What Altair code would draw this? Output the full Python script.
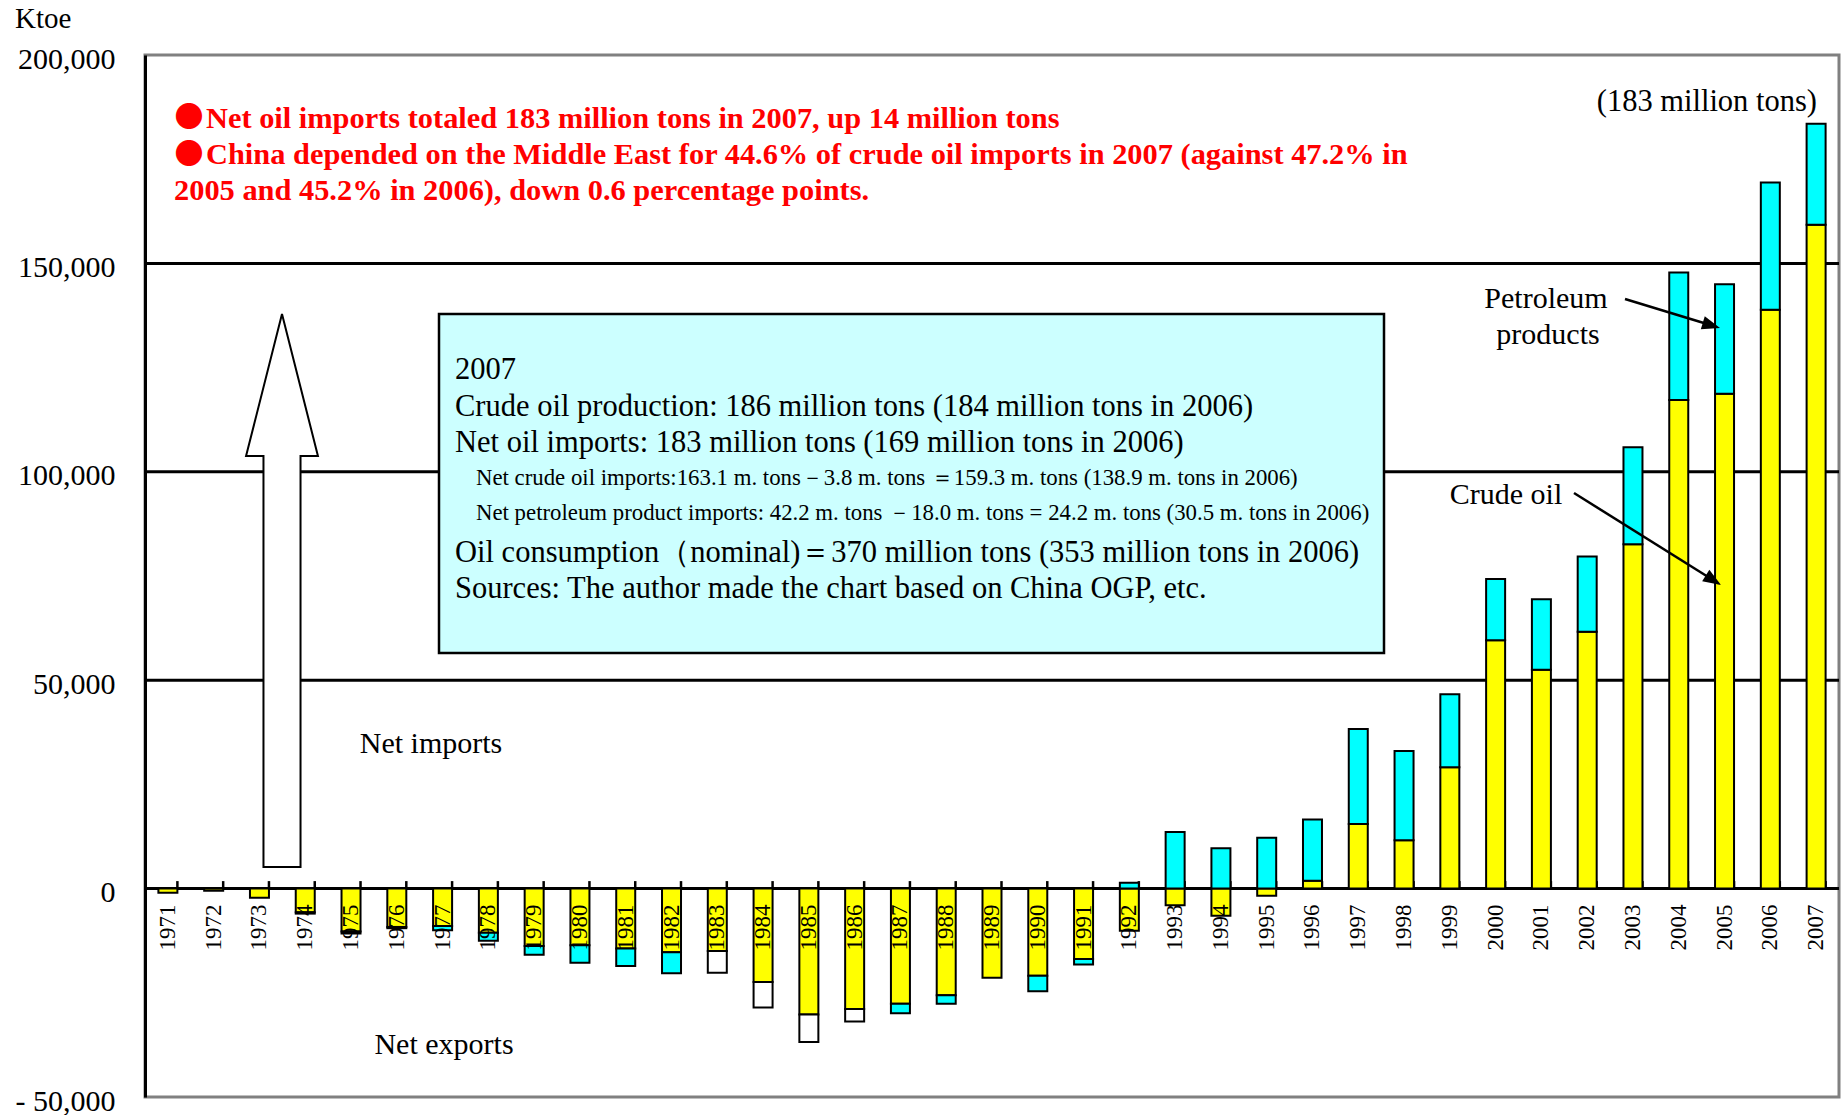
import altair as alt
import pandas as pd

# ---------------- data (Ktoe) ----------------
years = list(range(1971, 2008))
crude = [-1000, -500, -2200, -5700, -10300, -9200, -9000, -10600, -13800, -13600,
         -14400, -15300, -15000, -22400, -30200, -28900, -27600, -25600, -21400, -20900,
         -16900, -10100, -4000, -6500, -1700, 1900, 15500, 11600, 29100, 59600,
         52500, 61600, 82600, 117200, 118700, 138900, 159300]
products = [0, 0, 0, -300, -500, -300, -1000, -1900, -2100, -4200,
            -4200, -5000, 0, 0, 0, 0, -2300, -2000, 0, -3700,
            -1300, 1400, 13600, 9700, 12200, 14700, 22800, 21400, 17500, 14700,
            16900, 18100, 23300, 30600, 26300, 30500, 24200]
other = [0] * 12 + [-5200, -6100, -6600, -3000] + [0] * 21

series_names = ["Crude oil", "Petroleum products", "Other"]
series_colors = ["#FFFF00", "#00FFFF", "#FFFFFF"]
y_ticks = [-50000, 0, 50000, 100000, 150000, 200000]
grid_values = [50000, 100000, 150000]

title_lines = [
    "Net oil imports totaled 183 million tons in 2007, up 14 million tons",
    "China depended on the Middle East for 44.6% of crude oil imports in 2007 (against 47.2% in",
    "2005 and 45.2% in 2006), down 0.6 percentage points.",
]
box_lines = [
    "2007",
    "Crude oil production: 186 million tons (184 million tons in 2006)",
    "Net oil imports: 183 million tons (169 million tons in 2006)",
    "Net crude oil imports:163.1 m. tons\uff0d3.8 m. tons \uff1d159.3 m. tons (138.9 m. tons in 2006)",
    "Net petroleum product imports: 42.2 m. tons \uff0d18.0 m. tons = 24.2 m. tons (30.5 m. tons in 2006)",
    "Oil consumption\uff08nominal)\uff1d370 million tons (353 million tons in 2006)",
    "Sources: The author made the chart based on China OGP, etc.",
]

rows = []
for i, y in enumerate(years):
    for k, vals in enumerate([crude, products, other]):
        if vals[i] != 0:
            rows.append({"year": y, "value": vals[i], "series": series_names[k], "order": k})
df = pd.DataFrame(rows)
df_years = pd.DataFrame({"year": years})
df_grid = pd.DataFrame({"v": grid_values})
one = pd.DataFrame({"a": [0]})

SERIF = "Liberation Serif"
W, H = 1694, 1042

xscale = alt.Scale(domain=years, paddingInner=0.585, paddingOuter=0.2925)
yscale = alt.Scale(domain=[-50000, 200000], nice=False, zero=False)
yaxis = alt.Axis(values=y_ticks, title=None, grid=False, ticks=False,
                 labelExpr="datum.value < 0 ? '- ' + format(-datum.value, ',') : format(datum.value, ',')",
                 labelFont=SERIF, labelFontSize=30, labelColor="black", labelPadding=30,
                 labelBaseline="middle", labelOffset=4,
                 domainColor="black", domainWidth=3)

grid = alt.Chart(df_grid).mark_rule(color="black", strokeWidth=3).encode(
    y=alt.Y("v:Q", scale=yscale, axis=yaxis)
)
zero_line = alt.Chart(one).mark_rule(color="black", strokeWidth=3).encode(
    y=alt.datum(0)
)
ticks = alt.Chart(df_years).mark_rule(color="black", strokeWidth=2.5).encode(
    x=alt.X("year:O", scale=xscale, axis=None, bandPosition=1),
    y=alt.datum(0),
    y2=alt.datum(1800),
)

bars = alt.Chart(df).mark_bar(stroke="black", strokeWidth=2, opacity=1).encode(
    x=alt.X("year:O", scale=xscale, axis=None),
    y=alt.Y("value:Q", scale=yscale, axis=yaxis, stack="zero"),
    color=alt.Color("series:N", scale=alt.Scale(domain=series_names, range=series_colors), legend=None),
    order=alt.Order("order:Q"),
)

year_labels = alt.Chart(df_years).mark_text(
    font=SERIF, fontSize=23, angle=270, align="right", baseline="middle", dx=-16, color="black"
).encode(
    x=alt.X("year:O", scale=xscale, axis=None),
    y=alt.datum(0),
    text=alt.Text("year:O"),
)


def note(text, x, y, size=30, align="left", bold=False, color="black", font=SERIF):
    return alt.Chart(one).mark_text(
        text=text, font=font, fontSize=size, align=align, baseline="middle",
        fontWeight="bold" if bold else "normal", color=color
    ).encode(x=alt.value(x), y=alt.value(y))


# info box
box = alt.Chart(one).mark_rect(fill="#CCFFFF", stroke="black", strokeWidth=2.5).encode(
    x=alt.value(294), x2=alt.value(1239), y=alt.value(259), y2=alt.value(598)
)
box_y = [315, 352, 388, 423, 458, 498, 534]
box_x = [310, 310, 310, 331, 331, 310, 310]
box_size = [30.5, 30.5, 30.5, 22.8, 22.8, 30.5, 30.5]
box_texts = [note(t, box_x[i], box_y[i], size=box_size[i]) for i, t in enumerate(box_lines)]

# hollow up arrow
arrow_path = "M0,-1L0.13,-0.486L0.067,-0.486L0.067,1L-0.067,1L-0.067,-0.486L-0.13,-0.486Z"
big_arrow = alt.Chart(one).mark_point(
    shape=arrow_path, size=553 * 553, filled=True, color="white", stroke="black",
    strokeWidth=2, opacity=1
).encode(x=alt.value(137), y=alt.value(535.5))

# pointer arrows
head = "M1,0L-1,-0.75L-1,0.75Z"
pet_line = alt.Chart(one).mark_rule(color="black", strokeWidth=2.5).encode(
    x=alt.value(1480), y=alt.value(244), x2=alt.value(1567), y2=alt.value(270.5))
pet_head = alt.Chart(one).mark_point(shape=head, size=324, angle=17, filled=True,
                                     color="black", opacity=1).encode(
    x=alt.value(1566.4), y=alt.value(270.4))
crude_line = alt.Chart(one).mark_rule(color="black", strokeWidth=2.5).encode(
    x=alt.value(1429), y=alt.value(438), x2=alt.value(1568), y2=alt.value(525))
crude_head = alt.Chart(one).mark_point(shape=head, size=324, angle=31.9, filled=True,
                                       color="black", opacity=1).encode(
    x=alt.value(1568.4), y=alt.value(525.2))

annotations = [
    note("Ktoe", -130, -36, size=29),
    note("(183 million tons)", 1672, 47, size=30.5, align="right"),
    note("Petroleum", 1401, 244, align="center"),
    note("products", 1403, 280, align="center"),
    note("Crude oil", 1361, 440, align="center"),
    note("Net imports", 286, 689, align="center"),
    note("Net exports", 299, 990, align="center"),
    note("\u25cf", 44, 63, size=29, align="center", color="#FF0000", font="Noto Sans CJK JP"),
    note("\u25cf", 44, 99.5, size=29, align="center", color="#FF0000", font="Noto Sans CJK JP"),
    note(title_lines[0], 61, 64, size=30.4, bold=True, color="#FF0000"),
    note(title_lines[1], 61, 100, size=30.4, bold=True, color="#FF0000"),
    note(title_lines[2], 29, 136, size=30.4, bold=True, color="#FF0000"),
]

chart = alt.layer(
    grid, box, big_arrow, zero_line, ticks, bars, year_labels,
    *box_texts, pet_line, pet_head, crude_line, crude_head, *annotations
).properties(
    width=W, height=H,
    autosize=alt.AutoSizeParams(type="none"),
    padding={"left": 145, "top": 55, "right": 4, "bottom": 18},
    background="white",
).configure_view(stroke="#808080", strokeWidth=3)

chart.save("out.html", embed_options={"renderer": "svg", "actions": False})
